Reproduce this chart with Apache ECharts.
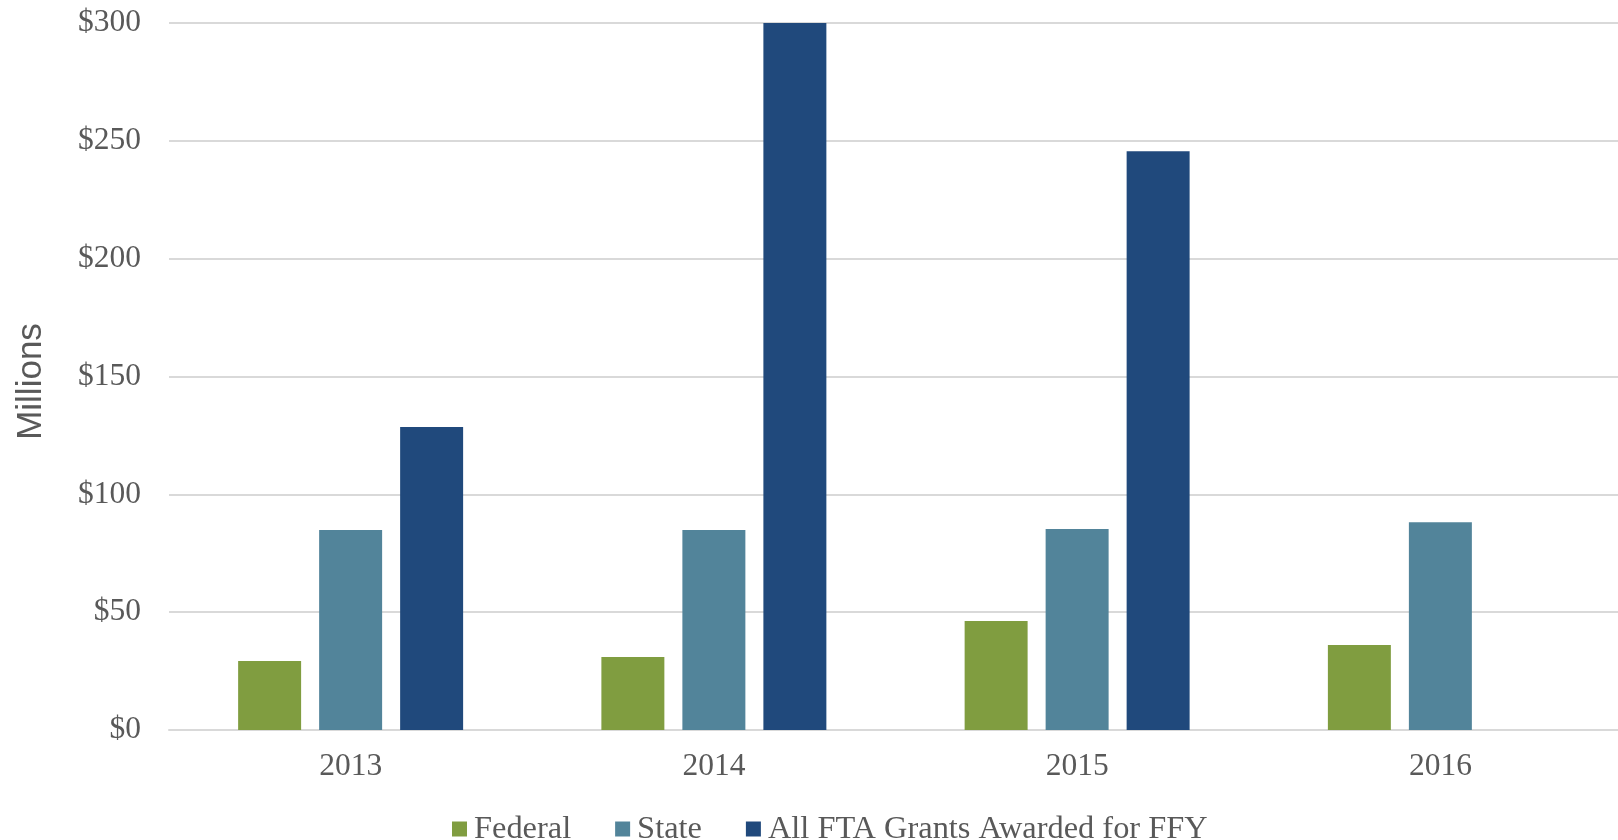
<!DOCTYPE html>
<html>
<head>
<meta charset="utf-8">
<script src="https://cdn.jsdelivr.net/npm/echarts@6/dist/echarts.min.js"></script>
<style>html,body{margin:0;padding:0;background:#fff;overflow:hidden}#c{width:1622px;height:840px}</style>
</head>
<body>
<div id="c"></div>
<script>
const categories = ['2013', '2014', '2015', '2016'];
const federal = [29.3, 31.0, 46.2, 36.1];
const state = [84.9, 84.9, 85.3, 88.2];
const allFTA = [128.6, 300, 245.6, null];
const yTicks = [0, 50, 100, 150, 200, 250, 300];

const chart = echarts.init(document.getElementById('c'), null, {renderer: 'canvas'});
const serif = '"Liberation Serif", "Times New Roman", serif';
chart.setOption({
  animation: false,
  backgroundColor: '#ffffff',
  grid: {left: 169, right: 0, top: 23, bottom: 110},
  legend: {
    left: 447, top: 808,
    itemWidth: 15, itemHeight: 15, itemGap: 44,
    icon: 'rect',
    textStyle: {fontFamily: serif, fontSize: 32.4, color: '#595959', padding: [0, 0, 0, 2]},
    data: ['Federal', 'State', 'All FTA Grants Awarded for FFY']
  },
  xAxis: {
    type: 'category',
    data: categories,
    axisTick: {show: false},
    axisLine: {lineStyle: {color: '#d9d9d9', width: 2}},
    axisLabel: {fontFamily: serif, fontSize: 31.5, color: '#595959', margin: 21}
  },
  yAxis: {
    type: 'value',
    min: yTicks[0], max: yTicks[yTicks.length - 1], interval: 50,
    name: 'Millions',
    nameLocation: 'middle',
    nameGap: 120,
    nameTextStyle: {fontFamily: '"Liberation Sans", Arial, sans-serif', fontSize: 35, color: '#595959', padding: [0, 10, 0, 0]},
    axisLine: {show: false},
    axisTick: {show: false},
    splitLine: {lineStyle: {color: '#d9d9d9', width: 2}},
    axisLabel: {fontFamily: serif, fontSize: 31.5, color: '#595959', margin: 28,
      formatter: v => '$' + v}
  },
  series: [
    {name: 'Federal', type: 'bar', data: federal, barWidth: '17.34%', barGap: '28.6%', itemStyle: {color: '#809D40'}},
    {name: 'State', type: 'bar', data: state, barWidth: '17.34%', barGap: '28.6%', itemStyle: {color: '#52849A'}},
    {name: 'All FTA Grants Awarded for FFY', type: 'bar', data: allFTA, barWidth: '17.34%', barGap: '28.6%', itemStyle: {color: '#20497C'}}
  ]
});
</script>
</body>
</html>
